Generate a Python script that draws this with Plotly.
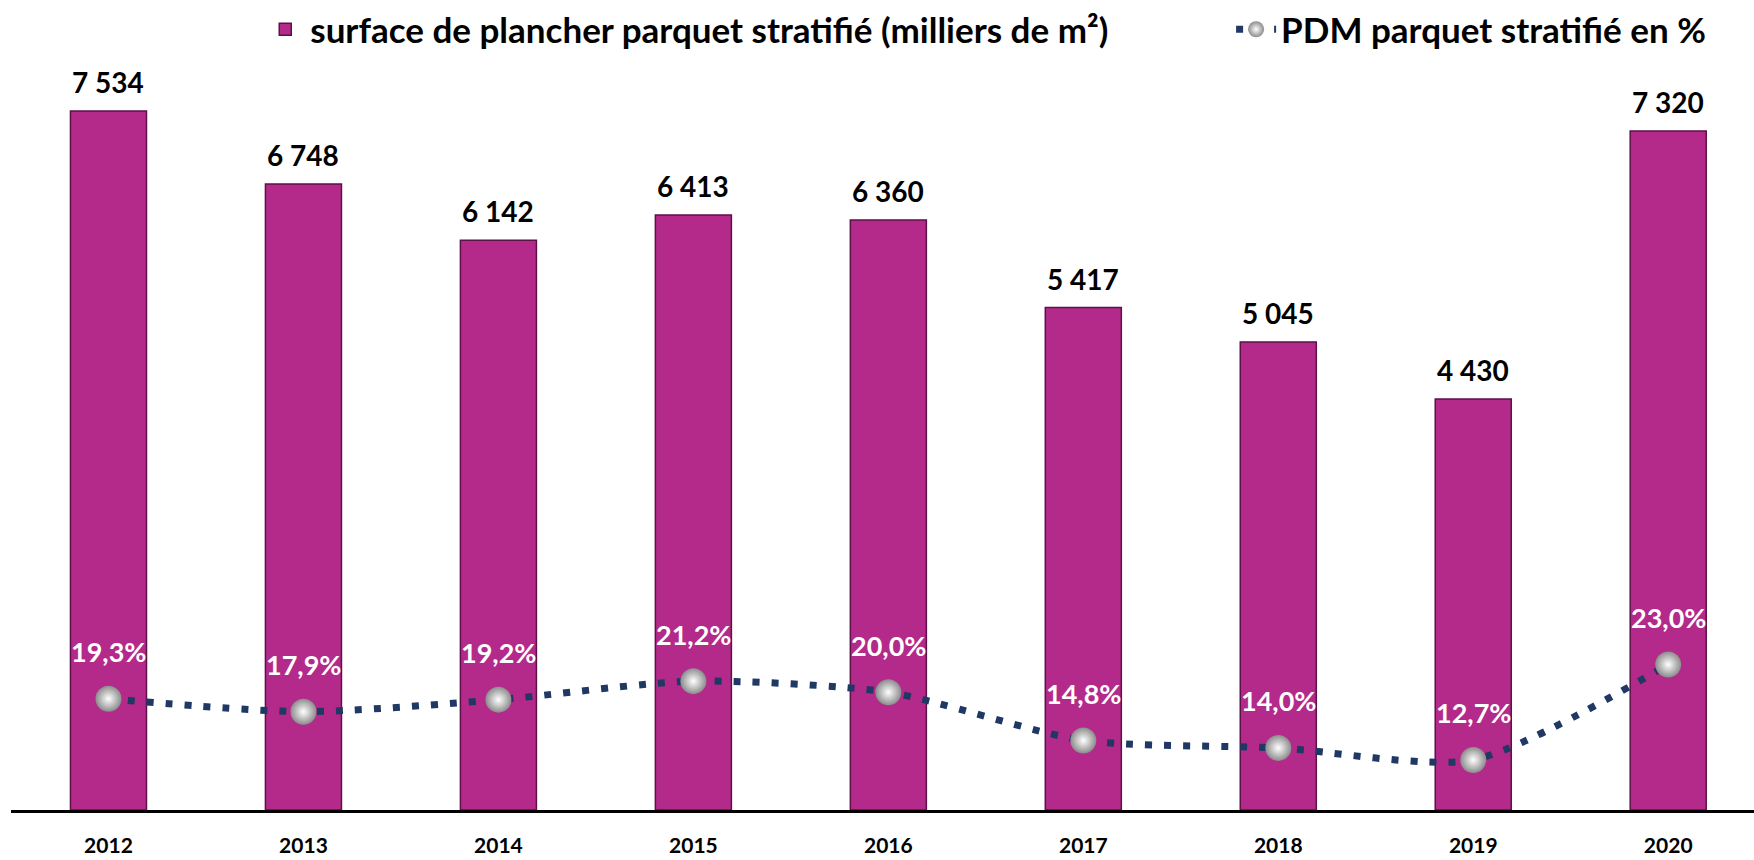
import plotly.graph_objects as go

years = ["2012", "2013", "2014", "2015", "2016", "2017", "2018", "2019", "2020"]
surface = [7534, 6748, 6142, 6413, 6360, 5417, 5045, 4430, 7320]
pdm = [19.3, 17.9, 19.2, 21.2, 20.0, 14.8, 14.0, 12.7, 23.0]

name_bar = "surface de plancher parquet stratifié (milliers de m²)"
name_line = "PDM parquet stratifié en %"

FONT = "Lato, 'Open Sans', sans-serif"

fig = go.Figure()
fig.add_trace(go.Bar(
    x=years, y=surface, name=name_bar, legend="legend",
    marker=dict(color="#B32A8B", line=dict(color="#5E1149", width=1.5)),
    width=0.39,
))
fig.add_trace(go.Scatter(
    x=years, y=pdm, name=name_line, yaxis="y2", legend="legend2",
    mode="lines+markers",
    line=dict(color="#1F3864", width=7, dash="7px,12px", shape="spline", smoothing=0.7),
    marker=dict(size=26, color="#8C8C8C", line=dict(width=0),
                gradient=dict(type="radial", color="#FFFFFF")),
    cliponaxis=False,
))

annotations = []
for i, v in enumerate(surface):
    annotations.append(dict(
        x=i, y=v, xref="x", yref="y", text="<b>" + f"{v:,}".replace(",", " ") + "</b>",
        showarrow=False, yanchor="bottom", yshift=10,
        font=dict(family=FONT, size=28, color="black")))
for i, p in enumerate(pdm):
    annotations.append(dict(
        x=i, y=p, xref="x", yref="y2", text="<b>" + f"{p:.1f}".replace(".", ",") + "%</b>",
        showarrow=False, yanchor="middle", yshift=47,
        font=dict(family=FONT, size=27, color="white")))

legfont = dict(family=FONT, size=35, color="black", weight="bold")
fig.update_layout(
    width=1754, height=860,
    separators=", ",
    paper_bgcolor="white", plot_bgcolor="white",
    margin=dict(l=11, r=0, t=60, b=50),
    font=dict(family=FONT, color="black"),
    showlegend=True,
    legend=dict(orientation="h", x=0.143, xanchor="left", y=1.08, yanchor="top",
                font=legfont, bgcolor="rgba(0,0,0,0)", itemwidth=40),
    legend2=dict(orientation="h", x=0.700, xanchor="left", y=1.08, yanchor="top",
                 font=legfont, bgcolor="rgba(0,0,0,0)", itemwidth=40),
    annotations=annotations,
    xaxis=dict(type="category", range=[-0.5, 8.44], showline=True, linecolor="black", linewidth=3,
               showgrid=False, ticks="", ticklabelstandoff=15,
               tickfont=dict(family=FONT, size=21, color="black", weight="bold")),
    yaxis=dict(range=[0, 8085], visible=False, showgrid=False),
    yaxis2=dict(range=[7.3, 88.2], overlaying="y", visible=False, showgrid=False),
)

fig.write_html("out.html", config={"displayModeBar": False},
               post_script="document.body.style.margin='0';")
